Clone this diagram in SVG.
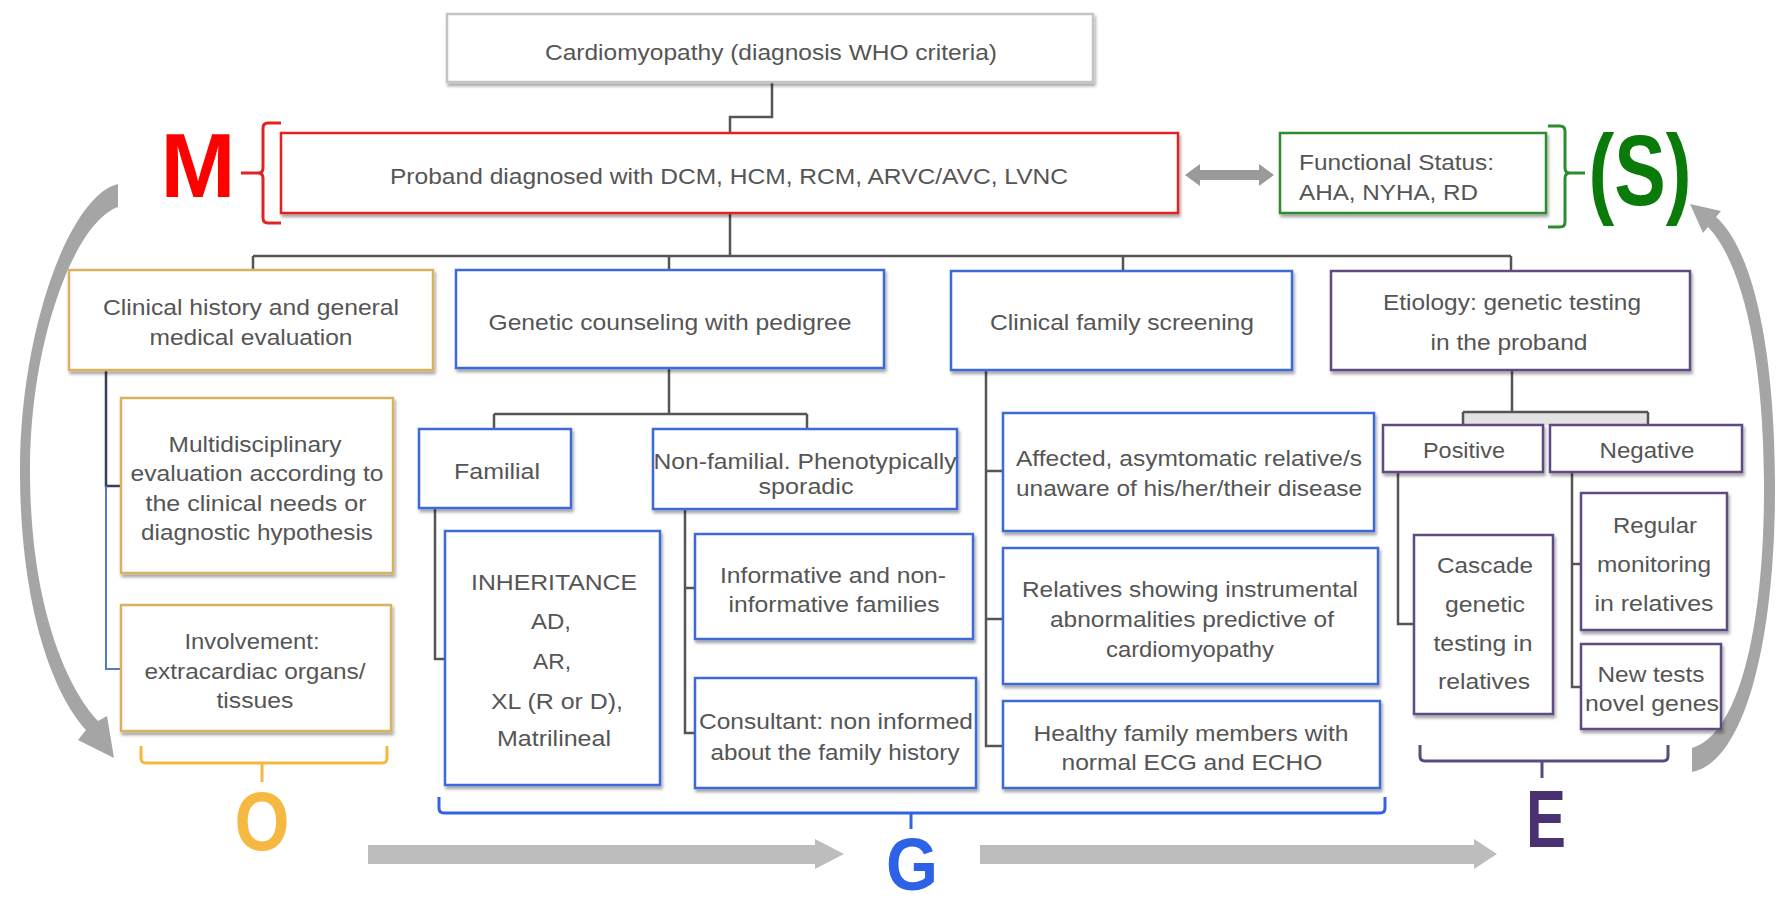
<svg xmlns="http://www.w3.org/2000/svg" width="1776" height="907" viewBox="0 0 1776 907">
<style>
.t{font-family:"Liberation Sans",Arial,sans-serif;font-size:22px;fill:#555;text-anchor:middle;}
.ts{text-anchor:start;}
.box{fill:#fff;stroke-width:2.5;filter:url(#sh);}
.gry{stroke:#c4c4c4;}
.red{stroke:#e02424;}
.grn{stroke:#2e8b2e;}
.yel{stroke:#d8b25e;}
.blu{stroke:#3d6bd8;}
.pur{stroke:#5e4b82;}
.con{fill:none;stroke:#555;stroke-width:2.5;}
.br{fill:none;stroke-width:3;}
.big{font-family:"Liberation Sans",Arial,sans-serif;font-weight:bold;text-anchor:middle;}
</style>
<defs>
<filter id="sh" x="-5%" y="-5%" width="112%" height="130%">
<feDropShadow dx="1.5" dy="3" stdDeviation="1.5" flood-color="#000" flood-opacity="0.35"/>
</filter>
</defs>
<rect width="1776" height="907" fill="#fff"/>

<g id="connectors">
<path class="con" d="M772,82 V117 H730 V133"/>
<path class="con" d="M730,213 V256 M253,256 H1511 M253,256 V270 M669,256 V270 M1123,256 V271 M1511,256 V271"/>
<path class="con" d="M106,370 V486 H121" style="stroke:#34405a"/>
<path class="con" d="M106,486 V669 H121" style="stroke:#5577cc;stroke-width:2"/>
<path class="con" d="M669,368 V414 M494,414 H807 M494,414 V429 M807,414 V429"/>
<path class="con" d="M435,508 V659 H445"/>
<path class="con" d="M685,509 V733 H695 M685,588 H695"/>
<path class="con" d="M986,370 V746 H1003 M986,471 H1003 M986,619 H1003"/>
<rect x="1463" y="412" width="185" height="13" fill="#e2e2e2"/>
<path class="con" d="M1512,370 V412 M1463,412 H1648 M1463,412 V425 M1648,412 V425"/>
<path class="con" d="M1398,472 V624 H1414"/>
<path class="con" d="M1572,472 V687 H1581 M1572,564 H1581"/>
<polygon points="1185,175 1200,164 1200,170 1259,170 1259,164 1274,175 1259,186 1259,180 1200,180 1200,186" fill="#9a9a9a"/>
<polygon points="368,845 815,845 815,839 844,854 815,869 815,864 368,864" fill="#bdbdbd"/>
<polygon points="980,845 1474,845 1474,839 1497,854 1474,869 1474,864 980,864" fill="#bdbdbd"/>
<path d="M118,184 C70,195 20,330 20,470 C20,600 50,690 86,730 L78,740 L114,758 L107,716 L98,721 C64,684 30,600 30,470 C30,340 75,222 118,207 Z" fill="#a5a5a5"/>
<path d="M1692,772 C1745,762 1776,640 1775,480 C1774,330 1748,245 1716,217 L1721,211 L1690,204 L1703,233 L1708,227 C1738,258 1763,340 1764,480 C1765,630 1738,735 1692,748 Z" fill="#a5a5a5"/>
</g>

<g id="brackets">
<path class="br" stroke="#e02424" d="M281,123 H268 Q263,123 263,128 V168 Q263,173 258,173 H241 M258,173 Q263,173 263,178 V218 Q263,223 268,223 H281"/>
<path class="br" stroke="#2e8b2e" d="M1548,126 H1560 Q1565,126 1565,131 V168 Q1565,173 1570,173 H1585 M1570,173 Q1565,173 1565,178 V222 Q1565,227 1560,227 H1548"/>
<path class="br" stroke="#f5b841" d="M141,746 V758 Q141,763 146,763 H382 Q387,763 387,758 V746 M262,763 V782"/>
<path class="br" stroke="#2f62e8" d="M439,797 V808 Q439,813 444,813 H1380 Q1385,813 1385,808 V797 M911,813 V829"/>
<path class="br" stroke="#5a4a80" d="M1420,745 V756 Q1420,761 1425,761 H1663 Q1668,761 1668,756 V745 M1542,761 V778"/>
</g>

<g id="letters">
<text class="big" x="198" y="197" font-size="90" fill="#ff0000">M</text>
<text class="big" x="1640" y="205" font-size="100" fill="#0a7a0a" textLength="103" lengthAdjust="spacingAndGlyphs">(S)</text>
<text class="big" x="262" y="850" font-size="84" fill="#f5b841" textLength="55" lengthAdjust="spacingAndGlyphs">O</text>
<text class="big" x="912" y="890" font-size="74" fill="#2d62e8" textLength="52" lengthAdjust="spacingAndGlyphs">G</text>
<text class="big" x="1546" y="847" font-size="82" fill="#4a3272" textLength="40" lengthAdjust="spacingAndGlyphs">E</text>
</g>

<g id="n-top"><rect class="box gry" x="447" y="14" width="646" height="68"/>
<text class="t" x="771" y="60" textLength="452" lengthAdjust="spacingAndGlyphs">Cardiomyopathy (diagnosis WHO criteria)</text></g>

<g id="n-proband"><rect class="box red" x="281" y="133" width="897" height="80"/>
<text class="t" x="729" y="184" textLength="678" lengthAdjust="spacingAndGlyphs">Proband diagnosed with DCM, HCM, RCM, ARVC/AVC, LVNC</text></g>

<g id="n-functional"><rect class="box grn" x="1280" y="133" width="266" height="80"/>
<text class="t ts" x="1299" y="170" textLength="195" lengthAdjust="spacingAndGlyphs">Functional Status:</text>
<text class="t ts" x="1299" y="200" textLength="179" lengthAdjust="spacingAndGlyphs">AHA, NYHA, RD</text></g>

<g id="n-clinical-history"><rect class="box yel" x="69" y="270" width="364" height="100"/>
<text class="t" x="251" y="315" textLength="296" lengthAdjust="spacingAndGlyphs">Clinical history and general</text>
<text class="t" x="251" y="345" textLength="203" lengthAdjust="spacingAndGlyphs">medical evaluation</text></g>

<g id="n-genetic-counseling"><rect class="box blu" x="456" y="270" width="428" height="98"/>
<text class="t" x="670" y="330" textLength="363" lengthAdjust="spacingAndGlyphs">Genetic counseling with pedigree</text></g>

<g id="n-family-screening"><rect class="box blu" x="951" y="271" width="341" height="99"/>
<text class="t" x="1122" y="330" textLength="264" lengthAdjust="spacingAndGlyphs">Clinical family screening</text></g>

<g id="n-etiology"><rect class="box pur" x="1331" y="271" width="359" height="99"/>
<text class="t" x="1512" y="310" textLength="258" lengthAdjust="spacingAndGlyphs">Etiology: genetic testing</text>
<text class="t" x="1509" y="350" textLength="157" lengthAdjust="spacingAndGlyphs">in the proband</text></g>

<g id="n-multidisciplinary"><rect class="box yel" x="121" y="398" width="272" height="175"/>
<text class="t" x="255" y="452" textLength="173" lengthAdjust="spacingAndGlyphs">Multidisciplinary</text>
<text class="t" x="257" y="481" textLength="253" lengthAdjust="spacingAndGlyphs">evaluation according to</text>
<text class="t" x="256" y="511" textLength="221" lengthAdjust="spacingAndGlyphs">the clinical  needs or</text>
<text class="t" x="257" y="540" textLength="232" lengthAdjust="spacingAndGlyphs">diagnostic hypothesis</text></g>

<g id="n-involvement"><rect class="box yel" x="121" y="605" width="270" height="126"/>
<text class="t" x="252" y="649" textLength="135" lengthAdjust="spacingAndGlyphs">Involvement:</text>
<text class="t" x="255" y="679" textLength="221" lengthAdjust="spacingAndGlyphs">extracardiac organs/</text>
<text class="t" x="255" y="708" textLength="77" lengthAdjust="spacingAndGlyphs">tissues</text></g>

<g id="n-familial"><rect class="box blu" x="419" y="429" width="152" height="79"/>
<text class="t" x="497" y="479" textLength="86" lengthAdjust="spacingAndGlyphs">Familial</text></g>

<g id="n-nonfamilial"><rect class="box blu" x="653" y="429" width="304" height="80"/>
<text class="t" x="805" y="469" textLength="303" lengthAdjust="spacingAndGlyphs">Non-familial. Phenotypically</text>
<text class="t" x="806" y="494" textLength="95" lengthAdjust="spacingAndGlyphs">sporadic</text></g>

<g id="n-inheritance"><rect class="box blu" x="445" y="531" width="215" height="254"/>
<text class="t" x="554" y="590" textLength="166" lengthAdjust="spacingAndGlyphs">INHERITANCE</text>
<text class="t" x="551" y="629" textLength="40" lengthAdjust="spacingAndGlyphs">AD,</text>
<text class="t" x="552" y="669" textLength="38" lengthAdjust="spacingAndGlyphs">AR,</text>
<text class="t" x="557" y="709" textLength="132" lengthAdjust="spacingAndGlyphs">XL (R or D),</text>
<text class="t" x="554" y="746" textLength="114" lengthAdjust="spacingAndGlyphs">Matrilineal</text></g>

<g id="n-informative"><rect class="box blu" x="695" y="534" width="278" height="105"/>
<text class="t" x="833" y="583" textLength="226" lengthAdjust="spacingAndGlyphs">Informative and non-</text>
<text class="t" x="834" y="612" textLength="211" lengthAdjust="spacingAndGlyphs">informative families</text></g>

<g id="n-consultant"><rect class="box blu" x="695" y="678" width="281" height="110"/>
<text class="t" x="836" y="729" textLength="274" lengthAdjust="spacingAndGlyphs">Consultant: non informed</text>
<text class="t" x="835" y="760" textLength="249" lengthAdjust="spacingAndGlyphs">about the family history</text></g>

<g id="n-affected"><rect class="box blu" x="1003" y="413" width="371" height="118"/>
<text class="t" x="1189" y="466" textLength="346" lengthAdjust="spacingAndGlyphs">Affected, asymtomatic relative/s</text>
<text class="t" x="1189" y="496" textLength="346" lengthAdjust="spacingAndGlyphs">unaware of his/her/their disease</text></g>

<g id="n-relatives"><rect class="box blu" x="1003" y="548" width="375" height="136"/>
<text class="t" x="1190" y="597" textLength="336" lengthAdjust="spacingAndGlyphs">Relatives showing instrumental</text>
<text class="t" x="1192" y="627" textLength="284" lengthAdjust="spacingAndGlyphs">abnormalities predictive of</text>
<text class="t" x="1190" y="657" textLength="168" lengthAdjust="spacingAndGlyphs">cardiomyopathy</text></g>

<g id="n-healthy"><rect class="box blu" x="1003" y="701" width="377" height="87"/>
<text class="t" x="1191" y="741" textLength="315" lengthAdjust="spacingAndGlyphs">Healthy family members with</text>
<text class="t" x="1192" y="770" textLength="261" lengthAdjust="spacingAndGlyphs">normal ECG and ECHO</text></g>

<g id="n-positive"><rect class="box pur" x="1383" y="425" width="160" height="47"/>
<text class="t" x="1464" y="458" textLength="82" lengthAdjust="spacingAndGlyphs">Positive</text></g>

<g id="n-negative"><rect class="box pur" x="1550" y="425" width="192" height="47"/>
<text class="t" x="1647" y="458" textLength="95" lengthAdjust="spacingAndGlyphs">Negative</text></g>

<g id="n-cascade"><rect class="box pur" x="1414" y="535" width="139" height="179"/>
<text class="t" x="1485" y="573" textLength="96" lengthAdjust="spacingAndGlyphs">Cascade</text>
<text class="t" x="1485" y="612" textLength="80" lengthAdjust="spacingAndGlyphs">genetic</text>
<text class="t" x="1483" y="651" textLength="99" lengthAdjust="spacingAndGlyphs">testing in</text>
<text class="t" x="1484" y="689" textLength="92" lengthAdjust="spacingAndGlyphs">relatives</text></g>

<g id="n-regular"><rect class="box pur" x="1581" y="493" width="146" height="137"/>
<text class="t" x="1655" y="533" textLength="84" lengthAdjust="spacingAndGlyphs">Regular</text>
<text class="t" x="1654" y="572" textLength="114" lengthAdjust="spacingAndGlyphs">monitoring</text>
<text class="t" x="1654" y="611" textLength="119" lengthAdjust="spacingAndGlyphs">in relatives</text></g>

<g id="n-newtests"><rect class="box pur" x="1581" y="644" width="140" height="85"/>
<text class="t" x="1651" y="682" textLength="107" lengthAdjust="spacingAndGlyphs">New tests</text>
<text class="t" x="1652" y="711" textLength="134" lengthAdjust="spacingAndGlyphs">novel genes</text></g>
</svg>
